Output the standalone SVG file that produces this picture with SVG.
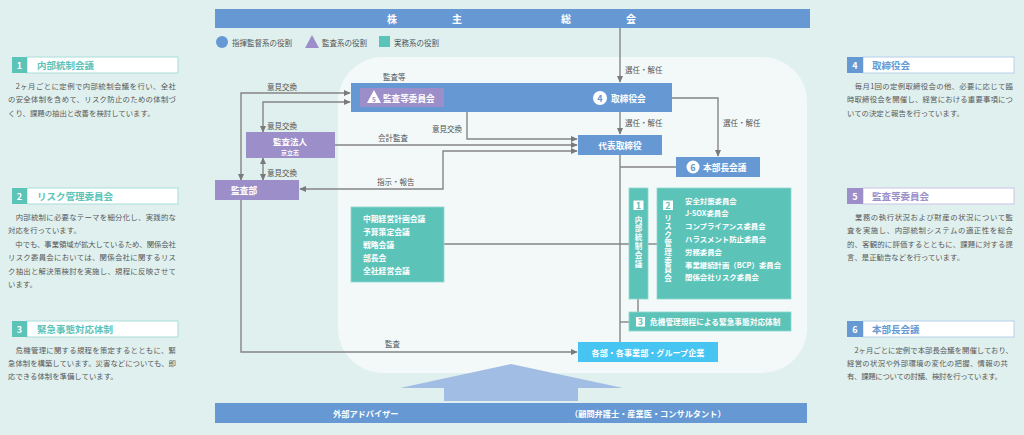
<svg xmlns="http://www.w3.org/2000/svg" width="1024" height="435" viewBox="0 0 1024 435">
<defs>
<style>
text{font-family:"Noto Sans CJK JP","Noto Sans",sans-serif;}
.lbl{font-size:7.5px;fill:#555;dominant-baseline:central;}
.body{font-size:7.4px;fill:#595959;dominant-baseline:central;}
.wt{fill:#fff;font-weight:bold;dominant-baseline:central;}
.vt{fill:#fff;font-weight:bold;font-size:7.6px;writing-mode:vertical-rl;}
.ln{fill:none;stroke:#858585;stroke-width:1.4;}
.blue{fill:#6699d3;}
.purple{fill:#9c8fc9;}
.teal{fill:#5cc3b9;stroke:#8fd8d0;stroke-width:0.8;}
.hd{font-size:9.5px;font-weight:bold;dominant-baseline:central;}
.num{font-size:9px;font-weight:bold;fill:#fff;text-anchor:middle;dominant-baseline:central;}
</style>
<marker id="ah" viewBox="0 0 10 10" refX="9" refY="5" markerWidth="7" markerHeight="7" markerUnits="userSpaceOnUse" orient="auto-start-reverse">
<path d="M0,0.5 L10,5 L0,9.5 z" fill="#7a7a7a"/>
</marker>
</defs>
<rect x="0" y="0" width="1024" height="435" fill="#dff0ee"/>
<rect x="338" y="57" width="469" height="316" rx="45" ry="45" fill="#f3f9f9"/>

<!-- big up arrow -->
<polygon points="511,364 623,388 578,388 578,401 444,401 444,388 400,388" fill="#a2bde4"/>

<!-- top bar -->
<g id="shareholders">
<rect x="215" y="9" width="595" height="19" class="blue"/>
<text class="wt" font-size="10" x="392" y="18.5" text-anchor="middle">株</text>
<text class="wt" font-size="10" x="457" y="18.5" text-anchor="middle">主</text>
<text class="wt" font-size="10" x="566" y="18.5" text-anchor="middle">総</text>
<text class="wt" font-size="10" x="631" y="18.5" text-anchor="middle">会</text>
</g>

<!-- legend -->
<g id="legend">
<circle cx="222" cy="42" r="6" fill="#6699d3"/>
<text class="lbl" x="232" y="42">指揮監督系の役割</text>
<polygon points="312,35 319,48 305,48" fill="#9c8fc9"/>
<text class="lbl" x="322" y="42">監査系の役割</text>
<rect x="379" y="36" width="11" height="11" fill="#5cc3b9"/>
<text class="lbl" x="394" y="42">実務系の役割</text>
</g>

<!-- connectors -->
<g id="connectors">
<path class="ln" d="M620,28 V82" marker-end="url(#ah)"/>
<path class="ln" d="M620,112 V134" marker-end="url(#ah)"/>
<path class="ln" d="M672,98 H718 V156" marker-end="url(#ah)"/>
<path class="ln" d="M620,167 H676"/>
<path class="ln" d="M620,155 V342"/>
<path class="ln" d="M444,244 H629"/>
<path class="ln" d="M648,244 H657"/>
<path class="ln" d="M638,299 V312"/>
<path class="ln" d="M620,322 H629"/>
<path class="ln" d="M241,180 V93 H350" marker-start="url(#ah)" marker-end="url(#ah)"/>
<path class="ln" d="M263,132 V102 H350" marker-start="url(#ah)" marker-end="url(#ah)"/>
<path class="ln" d="M263,158 V180" marker-start="url(#ah)" marker-end="url(#ah)"/>
<path class="ln" d="M445,97 H467 V139 H577" marker-start="url(#ah)" marker-end="url(#ah)"/>
<path class="ln" d="M335,145 H577" marker-end="url(#ah)"/>
<path class="ln" d="M577,151 H443 V189 H300" marker-start="url(#ah)" marker-end="url(#ah)"/>
<path class="ln" d="M241,200 V352 H577" marker-end="url(#ah)"/>
<text class="lbl" x="625" y="69">選任・解任</text>
<text class="lbl" x="625" y="122">選任・解任</text>
<text class="lbl" x="723" y="122">選任・解任</text>
<text class="lbl" x="383" y="76">監査等</text>
<text class="lbl" x="267" y="86">意見交換</text>
<text class="lbl" x="267" y="125">意見交換</text>
<text class="lbl" x="267" y="172">意見交換</text>
<text class="lbl" x="432" y="128">意見交換</text>
<text class="lbl" x="378" y="137">会計監査</text>
<text class="lbl" x="377" y="181">指示・報告</text>
<text class="lbl" x="385" y="343">監査</text>
</g>

<!-- board -->
<g id="board">
<rect x="351" y="83" width="321" height="29" class="blue"/>
<circle cx="600" cy="98" r="7" fill="#fff"/>
<text class="num" x="600" y="98" style="fill:#6699d3" font-size="8">4</text>
<text class="wt" font-size="8.7" x="611" y="98">取締役会</text>
</g>

<g id="audit-committee">
<rect x="360" y="88" width="84" height="19" class="purple"/>
<polygon points="374,90 381,103 367,103" fill="#fff"/>
<text x="374" y="98.5" font-size="6.5" font-weight="bold" fill="#9c8fc9" text-anchor="middle" dominant-baseline="central">5</text>
<text class="wt" font-size="8.6" x="383" y="97.5">監査等委員会</text>
</g>

<g id="rep-director">
<rect x="578" y="135" width="84" height="20" class="blue"/>
<text class="wt" font-size="8.7" x="620" y="145" text-anchor="middle">代表取締役</text>
</g>

<g id="gm-meeting">
<rect x="676" y="157" width="84" height="20" class="blue"/>
<circle cx="693" cy="167" r="6.5" fill="#fff"/>
<text class="num" x="693" y="167" style="fill:#6699d3" font-size="8">6</text>
<text class="wt" font-size="8.7" x="703" y="167">本部長会議</text>
</g>

<g id="audit-firm">
<rect x="246" y="132" width="89" height="26" class="purple"/>
<text class="wt" font-size="8.5" x="290" y="141" text-anchor="middle">監査法人</text>
<text class="wt" font-size="6" x="290" y="152" text-anchor="middle">京立志</text>
</g>

<g id="audit-dept">
<rect x="215" y="180" width="84" height="20" class="purple"/>
<text class="wt" font-size="8.7" x="231" y="190">監査部</text>
</g>

<g id="meetings">
<rect x="351" y="207" width="93" height="75" class="teal"/>
<text class="wt" font-size="7.8" x="363" y="218">中期経営計画会議</text>
<text class="wt" font-size="7.8" x="363" y="231">予算策定会議</text>
<text class="wt" font-size="7.8" x="363" y="244">戦略会議</text>
<text class="wt" font-size="7.8" x="363" y="257">部長会</text>
<text class="wt" font-size="7.8" x="363" y="270">全社経営会議</text>
</g>

<g id="internal-control">
<rect x="629" y="188" width="19" height="111" class="teal"/>
<rect x="633.5" y="200.5" width="10" height="9.5" fill="#fff"/>
<text class="num" x="638.5" y="205.5" style="fill:#5cc3b9" font-size="8">1</text>
<text class="vt" x="638.5" y="216" letter-spacing="1.2">内部統制会議</text>
</g>

<g id="risk-committee">
<rect x="657" y="188" width="134" height="111" class="teal"/>
<rect x="663" y="200.5" width="10" height="9.5" fill="#fff"/>
<text class="num" x="668" y="205.5" style="fill:#5cc3b9" font-size="8">2</text>
<text class="vt" x="668" y="214" letter-spacing="1">リスク管理委員会</text>
<text class="wt" font-size="7.4" x="685" y="200">安全対策委員会</text>
<text class="wt" font-size="7.4" x="685" y="212.8">J-SOX委員会</text>
<text class="wt" font-size="7.4" x="685" y="225.6">コンプライアンス委員会</text>
<text class="wt" font-size="7.4" x="685" y="238.4">ハラスメント防止委員会</text>
<text class="wt" font-size="7.4" x="685" y="251.2">労務委員会</text>
<text class="wt" font-size="7.4" x="685" y="264">事業継続計画（BCP）委員会</text>
<text class="wt" font-size="7.4" x="685" y="276.8">関係会社リスク委員会</text>
</g>

<g id="emergency">
<rect x="629" y="312" width="162" height="19" class="teal"/>
<rect x="636" y="317" width="9" height="9.5" fill="#fff"/>
<text class="num" x="640.5" y="321.8" style="fill:#5cc3b9" font-size="8">3</text>
<text class="wt" font-size="7.7" x="650" y="321.5">危機管理規程による緊急事態対応体制</text>
</g>

<g id="departments">
<rect x="578" y="342" width="140" height="20" fill="#47c5f2"/>
<text class="wt" font-size="8.1" x="648" y="352" text-anchor="middle">各部・各事業部・グループ企業</text>
</g>

<g id="advisers">
<rect x="215" y="403" width="592" height="20" class="blue"/>
<text class="wt" font-size="8.2" x="333" y="413">外部アドバイザー</text>
<text class="wt" font-size="8.2" x="570" y="413">（顧問弁護士・産業医・コンサルタント）</text>
</g>

<!-- left column -->
<g id="note1">
<rect x="27" y="57" width="151" height="16" fill="#fff" stroke="#a9ddd7" stroke-width="1"/>
<rect x="12" y="57" width="15" height="16" fill="#5cc3b9"/>
<text class="num" x="19.5" y="65">1</text>
<text class="hd" x="37" y="65" fill="#5cc3b9">内部統制会議</text>
<text class="body" x="8" y="85" textLength="168" lengthAdjust="spacing">　2ヶ月ごとに定例で内部統制会議を行い、全社</text>
<text class="body" x="8" y="98.5" textLength="168" lengthAdjust="spacing">の安全体制を含めて、リスク防止のための体制づ</text>
<text class="body" x="8" y="112">くり、課題の抽出と改善を検討しています。</text>
</g>
<g id="note2">
<rect x="27" y="188" width="151" height="16" fill="#fff" stroke="#a9ddd7" stroke-width="1"/>
<rect x="12" y="188" width="15" height="16" fill="#5cc3b9"/>
<text class="num" x="19.5" y="196">2</text>
<text class="hd" x="37" y="196" fill="#5cc3b9">リスク管理委員会</text>
<text class="body" x="8" y="216" textLength="168" lengthAdjust="spacing">　内部統制に必要なテーマを細分化し、実践的な</text>
<text class="body" x="8" y="229.5">対応を行っています。</text>
<text class="body" x="8" y="243" textLength="168" lengthAdjust="spacing">　中でも、事業領域が拡大しているため、関係会社</text>
<text class="body" x="8" y="256.5" textLength="168" lengthAdjust="spacing">リスク委員会においては、関係会社に関するリス</text>
<text class="body" x="8" y="270" textLength="168" lengthAdjust="spacing">ク抽出と解決策検討を実施し、規程に反映させて</text>
<text class="body" x="8" y="283.5">います。</text>
</g>
<g id="note3">
<rect x="27" y="321" width="151" height="16" fill="#fff" stroke="#a9ddd7" stroke-width="1"/>
<rect x="12" y="321" width="15" height="16" fill="#5cc3b9"/>
<text class="num" x="19.5" y="329">3</text>
<text class="hd" x="37" y="329" fill="#5cc3b9">緊急事態対応体制</text>
<text class="body" x="8" y="349" textLength="168" lengthAdjust="spacing">　危機管理に関する規程を策定するとともに、緊</text>
<text class="body" x="8" y="362" textLength="168" lengthAdjust="spacing">急体制を構築しています。災害などについても、即</text>
<text class="body" x="8" y="375">応できる体制を準備しています。</text>
</g>

<!-- right column -->
<g id="note4">
<rect x="863" y="57" width="151" height="16" fill="#fff" stroke="#b8cfeb" stroke-width="1"/>
<rect x="847" y="57" width="16" height="16" fill="#6699d3"/>
<text class="num" x="855" y="65">4</text>
<text class="hd" x="872" y="65" fill="#6699d3">取締役会</text>
<text class="body" x="847" y="85" textLength="166" lengthAdjust="spacing">　毎月1回の定例取締役会の他、必要に応じて臨</text>
<text class="body" x="847" y="98.5" textLength="166" lengthAdjust="spacing">時取締役会を開催し、経営における重要事項につ</text>
<text class="body" x="847" y="112">いての決定と報告を行っています。</text>
</g>
<g id="note5">
<rect x="863" y="188" width="151" height="16" fill="#fff" stroke="#cbc3e5" stroke-width="1"/>
<rect x="847" y="188" width="16" height="16" fill="#9c8fc9"/>
<text class="num" x="855" y="196">5</text>
<text class="hd" x="872" y="196" fill="#9c8fc9">監査等委員会</text>
<text class="body" x="847" y="216" textLength="166" lengthAdjust="spacing">　業務の執行状況および財産の状況について監</text>
<text class="body" x="847" y="229.5" textLength="166" lengthAdjust="spacing">査を実施し、内部統制システムの適正性を総合</text>
<text class="body" x="847" y="243" textLength="166" lengthAdjust="spacing">的、客観的に評価するとともに、課題に対する提</text>
<text class="body" x="847" y="256.5">言、是正勧告などを行っています。</text>
</g>
<g id="note6">
<rect x="863" y="321" width="151" height="16" fill="#fff" stroke="#b8cfeb" stroke-width="1"/>
<rect x="847" y="321" width="16" height="16" fill="#6699d3"/>
<text class="num" x="855" y="329">6</text>
<text class="hd" x="872" y="329" fill="#6699d3">本部長会議</text>
<text class="body" x="847" y="349" textLength="166" lengthAdjust="spacing">　2ヶ月ごとに定例で本部長会議を開催しており、</text>
<text class="body" x="847" y="362" textLength="161" lengthAdjust="spacing">経営の状況や外部環境の変化の把握、情報の共</text>
<text class="body" x="847" y="375" textLength="155" lengthAdjust="spacing">有、課題についての討議、検討を行っています。</text>
</g>
</svg>
